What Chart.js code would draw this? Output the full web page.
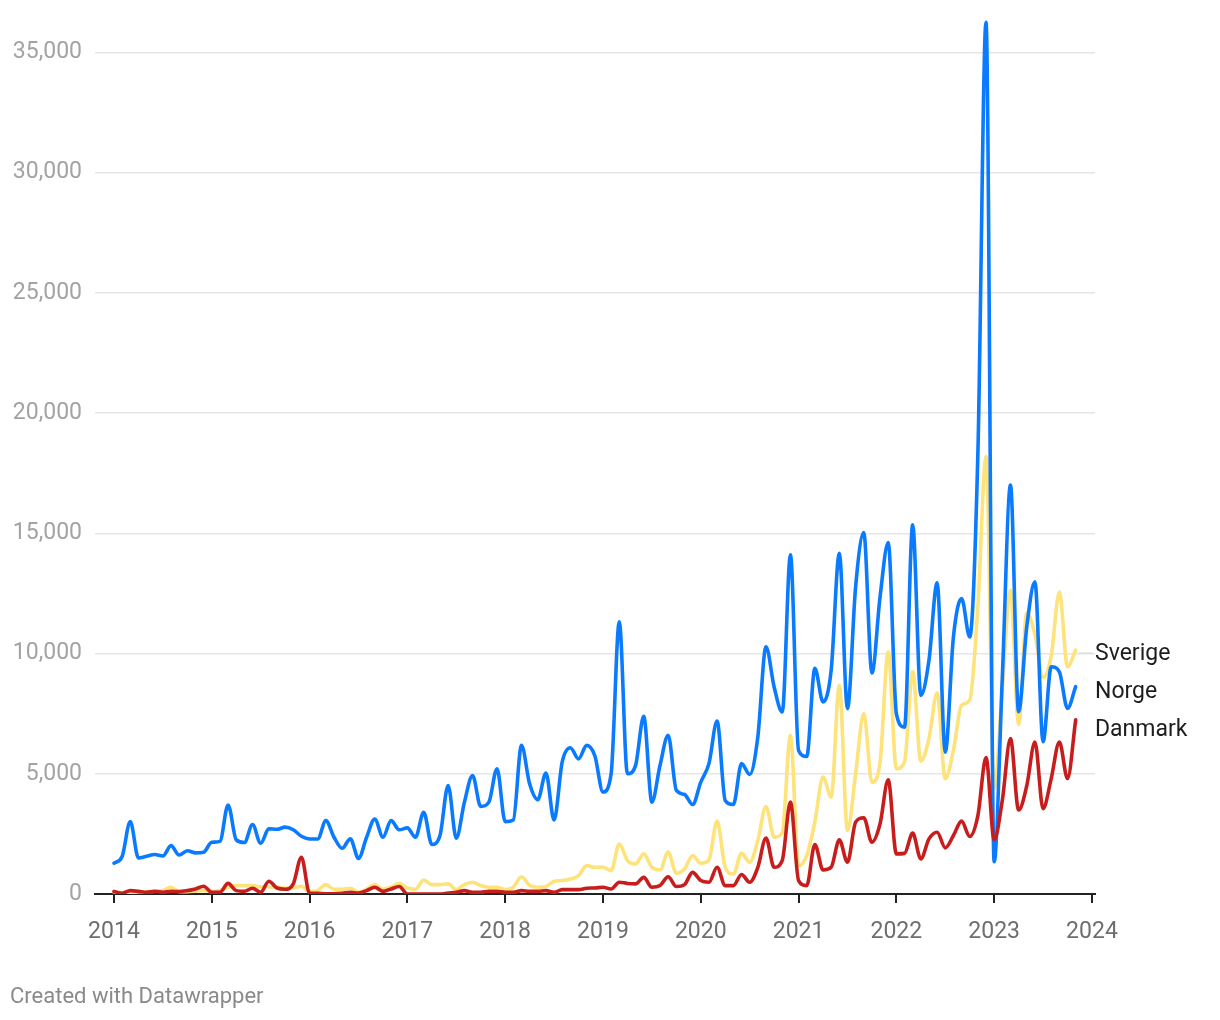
<!DOCTYPE html>
<html><head><meta charset="utf-8">
<script src="https://cdn.jsdelivr.net/npm/chart.js@4.4.0/dist/chart.umd.min.js"></script>
<style>html,body{margin:0;padding:0;background:#fff}</style>
</head><body>
<canvas id="c" width="1220" height="1020"></canvas>
<script>
// ---- data ----
const startYear = 2014;
const monthCount = 119; // Jan 2014 .. Nov 2023
const months = [];
for (let i = 0; i < monthCount; i++) {
  months.push(`${startYear + Math.floor(i / 12)}-${String(i % 12 + 1).padStart(2, '0')}`);
}
const yearTicks = [2014, 2015, 2016, 2017, 2018, 2019, 2020, 2021, 2022, 2023, 2024];
const valueTicks = [0, 5000, 10000, 15000, 20000, 25000, 30000, 35000];
const seriesNames = ['Danmark', 'Norge', 'Sverige'];

const norge = [
  1280, 1560, 3010, 1500, 1570, 1640, 1580, 2010, 1620, 1800, 1710, 1740,
  2150, 2190, 3700, 2250, 2140, 2890, 2110, 2710, 2690, 2780, 2670, 2400,
  2290, 2290, 3050, 2360, 1900, 2300, 1480, 2360, 3120, 2360, 3050, 2670,
  2750, 2360, 3400, 2060, 2430, 4510, 2320, 3820, 4930, 3640, 3820, 5210,
  3010, 3080, 6180, 4580, 3920, 5030, 3080, 5490, 6080, 5620, 6180, 5750,
  4240, 5000, 11320, 5000, 5350, 7390, 3820, 5350, 6600, 4310, 4140, 3720,
  4650, 5420, 7190, 3890, 3720, 5420, 4970, 6530, 10280, 8610, 7570, 14100,
  5970, 5720, 9380, 7990, 9310, 14170, 7710, 12780, 15030, 9190, 12360, 14610,
  7500, 6940, 15350, 8260, 9720, 12940, 5900, 10690, 12290, 10690, 18300, 36250,
  1340, 9000, 17000, 7580, 11110, 12980, 6330, 9450, 9240, 7720, 8620
];
const sverige = [
  80, 50, 60, 80, 100, 120, 150, 280, 100, 100, 120, 150,
  100, 150, 280, 350, 350, 350, 300, 300, 280, 250, 250, 320,
  110, 150, 390, 200, 200, 240, 70, 200, 390, 200, 280, 440,
  250, 200, 580, 390, 390, 420, 180, 390, 490, 350, 280, 280,
  180, 280, 720, 350, 280, 310, 530, 560, 620, 760, 1180, 1110,
  1110, 970, 2080, 1390, 1250, 1670, 1110, 1000, 1740, 860, 1040, 1600,
  1280, 1420, 3030, 1110, 830, 1690, 1320, 2220, 3640, 2360, 2550, 6600,
  1180, 1600, 3000, 4860, 4030, 8680, 2640, 5000, 7500, 4650, 5490, 10070,
  5210, 5490, 9240, 5530, 6460, 8360, 4790, 5970, 7850, 8060, 11940, 18190,
  4400, 8500, 12630, 7050, 11680, 10800, 9000, 9900, 12560, 9450, 10140
];
const danmark = [
  100, 30, 140, 110, 70, 110, 70, 110, 100, 140, 210, 320,
  70, 70, 440, 140, 110, 240, 70, 530, 250, 200, 420, 1530,
  30, 30, 10, 10, 30, 70, 40, 140, 280, 110, 210, 310,
  0, 0, 0, 0, 0, 40, 70, 140, 70, 70, 110, 110,
  70, 70, 140, 110, 110, 140, 70, 180, 180, 180, 240, 250,
  280, 210, 490, 440, 420, 690, 280, 350, 720, 310, 390, 900,
  560, 490, 1110, 350, 350, 810, 490, 1110, 2330, 1110, 1400, 3820,
  560, 350, 2060, 1000, 1110, 2250, 1320, 2990, 3170, 2150, 2920, 4750,
  1670, 1690, 2530, 1460, 2290, 2570, 1920, 2430, 3030, 2390, 3260, 5670,
  2250, 3900, 6460, 3490, 4500, 6320, 3550, 4800, 6320, 4800, 7240
];

// ---- build ----
function monthToX(m) { const [y, mo] = m.split('-').map(Number); return y + (mo - 1) / 12; }
function pts(arr) { return arr.map((v, i) => ({ x: monthToX(months[i]), y: v })); }

const colors = { Danmark: '#c71e1d', Norge: '#0a7bff', Sverige: '#fee27a' };
const values = { Danmark: danmark, Norge: norge, Sverige: sverige };

Chart.defaults.font.family = 'Roboto, "Noto Sans", sans-serif';

const endLabels = {
  id: 'endLabels',
  afterDatasetsDraw(chart) {
    const ctx = chart.ctx, xs = chart.scales.x, ys = chart.scales.y;
    const items = chart.data.datasets.map(ds => {
      const last = ds.data[ds.data.length - 1];
      return { name: ds.label, px: xs.getPixelForValue(last.x), py: ys.getPixelForValue(last.y) };
    }).sort((a, b) => a.py - b.py);
    const gap = 38;
    items.forEach((it, k) => { it.ly = k === 0 ? it.py : Math.max(it.py, items[k - 1].ly + gap); });
    const lx = chart.chartArea.right;
    ctx.save();
    items.forEach(it => {
      if (it.name === 'Sverige') {
        ctx.strokeStyle = '#dddddd'; ctx.lineWidth = 1.5;
        ctx.beginPath(); ctx.moveTo(it.px + 3, it.ly + 3); ctx.lineTo(lx - 2, it.ly + 3); ctx.stroke();
      }
      ctx.fillStyle = '#1d1d1d';
      ctx.font = '23px Roboto';
      ctx.textBaseline = 'middle';
      ctx.textAlign = 'left';
      ctx.fillText(it.name, lx, it.ly + 4);
    });
    ctx.fillStyle = '#8a8a8a';
    ctx.font = '22px Roboto';
    ctx.textBaseline = 'middle';
    ctx.fillText('Created with Datawrapper', 10, 997);
    ctx.restore();
  }
};

new Chart(document.getElementById('c'), {
  type: 'line',
  data: {
    datasets: seriesNames.map(n => ({
      label: n,
      data: pts(values[n]),
      borderColor: colors[n],
      backgroundColor: colors[n],
      borderWidth: 3.6,
      pointRadius: 0,
      cubicInterpolationMode: 'monotone',
      borderJoinStyle: 'round',
      borderCapStyle: 'round',
      fill: false
    }))
  },
  options: {
    responsive: false,
    animation: false,
    events: [],
    layout: { padding: { top: 9, right: 125, left: 0, bottom: 0 } },
    plugins: { legend: { display: false }, tooltip: { enabled: false } },
    scales: {
      x: {
        type: 'linear',
        min: 2013.806,
        max: 2024.031,
        afterBuildTicks: s => { s.ticks = yearTicks.map(v => ({ value: v })); },
        afterFit: s => { s.height = 126; s.paddingLeft = 0; s.paddingRight = 0; },
        grid: { drawOnChartArea: false, drawTicks: true, tickLength: 9, color: '#222', lineWidth: 2 },
        border: { display: true, color: '#222', width: 2 },
        ticks: { callback: v => String(v), color: '#6e6e6e', font: { size: 23 }, padding: 15, maxRotation: 0, autoSkip: false }
      },
      y: {
        min: 0,
        max: 36800,
        afterBuildTicks: s => { s.ticks = valueTicks.map(v => ({ value: v })); },
        afterFit: s => { s.width = 95; s.paddingTop = 0; s.paddingBottom = 0; },
        grid: { drawTicks: false, color: c => c.tick && c.tick.value === 0 ? 'rgba(0,0,0,0)' : '#e6e6e6', lineWidth: 1.5 },
        border: { display: false },
        ticks: { callback: v => v.toLocaleString('en-US'), color: '#a3a3a3', font: { size: 23 }, padding: 13 }
      }
    }
  },
  plugins: [endLabels]
});
</script>
</body></html>
